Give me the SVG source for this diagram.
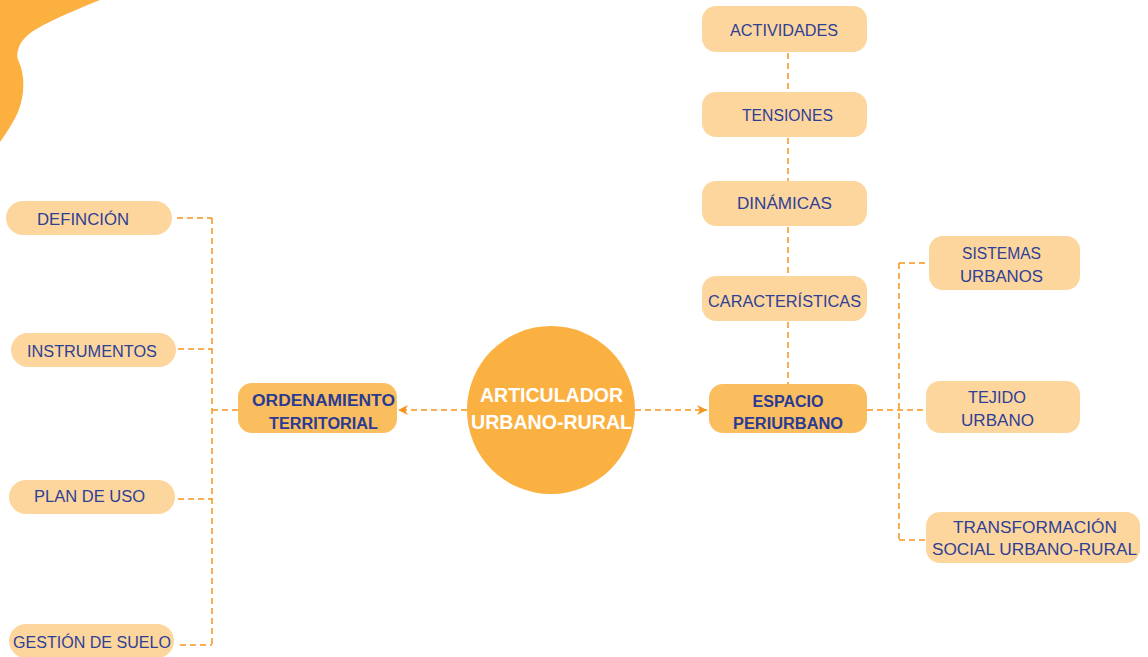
<svg xmlns="http://www.w3.org/2000/svg" width="1148" height="657" viewBox="0 0 1148 657">
<defs>
<style>
.lt{fill:#FDD69D}
.dk{fill:#FBBE5F}
.t{font-family:"Liberation Sans",Arial,sans-serif;font-size:16.3px;fill:#2E3F96;text-anchor:middle}
.b{font-family:"Liberation Sans",Arial,sans-serif;font-weight:bold;font-size:17.4px;fill:#2B3A92;text-anchor:middle}
.w{font-family:"Liberation Sans",Arial,sans-serif;font-weight:bold;font-size:19.6px;fill:#FFFFFF;text-anchor:middle}
.c{fill:none;stroke:#F7941D;stroke-width:1.5;stroke-dasharray:6 4}
</style>
<marker id="ah" viewBox="0 0 10 10" refX="10" refY="5" markerWidth="10" markerHeight="10" markerUnits="userSpaceOnUse" orient="auto">
<path d="M0,0 L10,5 L0,10 L3,5 Z" fill="#F7941D"/>
</marker>
</defs>
<path id="blob" d="M0,0 L100,0 C70,12 40,25 28,35 C18,43 15,55 19,62 C25,75 25,95 18,112 C12,125 5,135 0,142 Z" fill="#FBB040"/>
<g id="connectors">
<path class="c" d="M177,218 H212 M178,349 H212 M178,499 H212 M180,645 H212 M212,218 V645 M212,410 H238"/>
<path class="c" d="M867,410 H926 M899,263 V540 M899,263 H929 M899,540 H926"/>
<path class="c" d="M788,53 V92 M788,138 V181 M788,227 V276 M788,322 V384"/>
<path class="c" d="M467,410 H398" marker-end="url(#ah)"/>
<path class="c" d="M635,410 H707" marker-end="url(#ah)"/>
</g>
<g id="center">
<circle cx="551" cy="410" r="84" fill="#FBB142"/>
<text class="w" x="551.5" y="402" textLength="143" lengthAdjust="spacingAndGlyphs">ARTICULADOR</text>
<text class="w" x="551.5" y="429" textLength="161" lengthAdjust="spacingAndGlyphs">URBANO-RURAL</text>
</g>
<g id="ordenamiento">
<rect class="dk" x="238" y="383" width="159" height="50" rx="14"/>
<text class="b" x="323.5" y="406" textLength="143" lengthAdjust="spacingAndGlyphs">ORDENAMIENTO</text>
<text class="b" x="323.5" y="429" textLength="109" lengthAdjust="spacingAndGlyphs">TERRITORIAL</text>
</g>
<g id="espacio">
<rect class="dk" x="709" y="384" width="158" height="49" rx="14"/>
<text class="b" x="788" y="407" textLength="71" lengthAdjust="spacingAndGlyphs">ESPACIO</text>
<text class="b" x="788" y="429" textLength="110" lengthAdjust="spacingAndGlyphs">PERIURBANO</text>
</g>
<g id="definicion">
<rect class="lt" x="6" y="201" width="166" height="34" rx="17"/>
<text class="t" x="83" y="225" textLength="92" lengthAdjust="spacingAndGlyphs">DEFINCIÓN</text>
</g>
<g id="instrumentos">
<rect class="lt" x="11" y="333" width="165" height="34" rx="17"/>
<text class="t" x="92" y="357" textLength="130" lengthAdjust="spacingAndGlyphs">INSTRUMENTOS</text>
</g>
<g id="plan">
<rect class="lt" x="9" y="480" width="166" height="34" rx="17"/>
<text class="t" x="89.5" y="502" textLength="111" lengthAdjust="spacingAndGlyphs">PLAN DE USO</text>
</g>
<g id="gestion">
<rect class="lt" x="9" y="624" width="165" height="34" rx="17"/>
<text class="t" x="92" y="648" textLength="158" lengthAdjust="spacingAndGlyphs">GESTIÓN DE SUELO</text>
</g>
<g id="actividades">
<rect class="lt" x="702" y="6" width="165" height="46" rx="14"/>
<text class="t" x="784" y="36" textLength="108" lengthAdjust="spacingAndGlyphs">ACTIVIDADES</text>
</g>
<g id="tensiones">
<rect class="lt" x="702" y="92" width="165" height="45" rx="14"/>
<text class="t" x="787.5" y="121" textLength="91" lengthAdjust="spacingAndGlyphs">TENSIONES</text>
</g>
<g id="dinamicas">
<rect class="lt" x="702" y="181" width="165" height="45" rx="14"/>
<text class="t" x="784.5" y="209" textLength="95" lengthAdjust="spacingAndGlyphs">DINÁMICAS</text>
</g>
<g id="caracteristicas">
<rect class="lt" x="702" y="276" width="165" height="45" rx="14"/>
<text class="t" x="784.5" y="307" textLength="153" lengthAdjust="spacingAndGlyphs">CARACTERÍSTICAS</text>
</g>
<g id="sistemas">
<rect class="lt" x="929" y="236" width="151" height="54" rx="14"/>
<text class="t" x="1001.5" y="259" textLength="79" lengthAdjust="spacingAndGlyphs">SISTEMAS</text>
<text class="t" x="1001.5" y="282" textLength="83" lengthAdjust="spacingAndGlyphs">URBANOS</text>
</g>
<g id="tejido">
<rect class="lt" x="926" y="381" width="154" height="52" rx="14"/>
<text class="t" x="997" y="403" textLength="58" lengthAdjust="spacingAndGlyphs">TEJIDO</text>
<text class="t" x="997.5" y="426" textLength="73" lengthAdjust="spacingAndGlyphs">URBANO</text>
</g>
<g id="transformacion">
<rect class="lt" x="926" y="512" width="214" height="51" rx="14"/>
<text class="t" x="1035" y="533" textLength="164" lengthAdjust="spacingAndGlyphs">TRANSFORMACIÓN</text>
<text class="t" x="1034.5" y="555" textLength="205" lengthAdjust="spacingAndGlyphs">SOCIAL URBANO-RURAL</text>
</g>
</svg>
